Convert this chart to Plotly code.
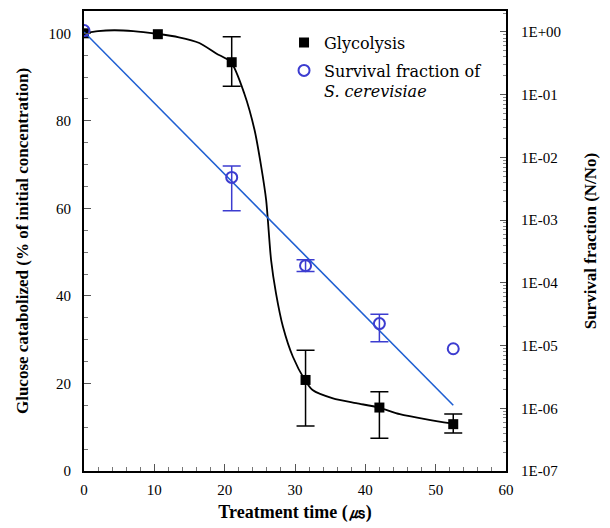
import plotly.graph_objects as go

# ---- data ----
time_pts = [0, 10.5, 21, 31.5, 42, 52.5]
gly_mean = [100, 99.8, 93.4, 20.8, 14.5, 10.7]

# glycolysis points that carry error bars
gly_err_x = [21, 31.5, 42, 52.5]
gly_err_mean = [93.4, 20.8, 14.5, 10.7]
gly_upper = [99.2, 27.6, 18.1, 13.0]
gly_lower = [87.9, 10.3, 7.5, 8.7]

surv_x = [0, 21, 31.5, 42, 52.5]
surv_mean = [1.05, 4.8e-3, 1.88e-4, 2.24e-5, 8.9e-6]

# survival points that carry error bars
surv_err_x = [21, 31.5, 42]
surv_err_mean = [4.8e-3, 1.88e-4, 2.24e-5]
surv_upper = [7.3e-3, 2.34e-4, 3.16e-5]
surv_lower = [1.41e-3, 1.52e-4, 1.15e-5]

# fitted curve for glycolysis
curve_x = [0, 2, 4.3, 7, 10.3, 13.5, 16.4, 18.8, 20.9, 22.8, 24.25, 25.2, 25.9,
           26.6, 27.3, 28.3, 29.7, 31.4, 32.5, 35.4, 38.7, 41.9, 44.9, 48.7, 52.5]
curve_y = [100, 100.5, 100.7, 100.5, 99.9, 99.1, 97.8, 95.4, 93.4, 86.2, 77.9, 69.5, 61.9,
           48.2, 40.6, 32.9, 26.1, 20.8, 18.5, 16.6, 15.5, 14.5, 13.0, 11.8, 10.8]

# regression line for survival
fit_x = [0, 52.5]
fit_y = [1.0, 1.12e-6]

right_tickvals = [1e0, 1e-1, 1e-2, 1e-3, 1e-4, 1e-5, 1e-6, 1e-7]
right_ticktext = ["1E+00", "1E-01", "1E-02", "1E-03", "1E-04", "1E-05", "1E-06", "1E-07"]

gly_plus = [u - m for u, m in zip(gly_upper, gly_err_mean)]
gly_minus = [m - l for m, l in zip(gly_err_mean, gly_lower)]
surv_plus = [u - m for u, m in zip(surv_upper, surv_err_mean)]
surv_minus = [m - l for m, l in zip(surv_err_mean, surv_lower)]

BLUE_LINE = "#1f5fd2"
BLUE_PT = "#3c3cd0"
SERIF = "Liberation Serif"

fig = go.Figure()

fig.add_trace(go.Scatter(x=curve_x, y=curve_y, mode="lines",
                         line=dict(color="black", width=1.8, shape="spline", smoothing=0.7),
                         showlegend=False, hoverinfo="skip"))

fig.add_trace(go.Scatter(x=fit_x, y=fit_y, mode="lines", yaxis="y2",
                         line=dict(color=BLUE_LINE, width=1.6),
                         showlegend=False, hoverinfo="skip"))

fig.add_trace(go.Scatter(x=surv_err_x, y=surv_err_mean, mode="markers", yaxis="y2",
                         marker=dict(size=0.1, opacity=0), showlegend=False, hoverinfo="skip",
                         error_y=dict(type="data", array=surv_plus, arrayminus=surv_minus,
                                      color=BLUE_PT, thickness=1.5, width=9)))

fig.add_trace(go.Scatter(x=gly_err_x, y=gly_err_mean, mode="markers",
                         marker=dict(size=0.1, opacity=0), showlegend=False, hoverinfo="skip",
                         error_y=dict(type="data", array=gly_plus, arrayminus=gly_minus,
                                      color="black", thickness=1.5, width=9)))

fig.add_trace(go.Scatter(x=time_pts, y=gly_mean, mode="markers", name="Glycolysis",
                         legendgroup="a",
                         marker=dict(symbol="square", size=10, color="black")))

fig.add_trace(go.Scatter(x=surv_x, y=surv_mean, mode="markers", yaxis="y2",
                         name="Survival fraction of<br><i>S. cerevisiae</i>", legendgroup="b",
                         marker=dict(symbol="circle-open", size=11, color=BLUE_PT,
                                     line=dict(width=2, color=BLUE_PT))))

# minor tick positions for log axis
minor_log = [k * 10.0 ** e for e in range(-7, 1) for k in range(2, 10)]

fig.update_layout(
    width=610, height=528,
    margin=dict(l=84, r=104, t=11, b=57),
    plot_bgcolor="white", paper_bgcolor="white",
    font=dict(family=SERIF, size=15, color="black"),
    legend=dict(x=0.474, y=0.968, xanchor="left", yanchor="top",
                traceorder="grouped", valign="top",
                font=dict(family="DejaVu Serif", size=16, color="black"),
                bgcolor="rgba(0,0,0,0)", itemwidth=30, tracegroupgap=4),
    xaxis=dict(range=[0, 60], tickvals=[0, 10, 20, 30, 40, 50, 60], automargin=False,
               ticks="inside", ticklen=7, tickwidth=1, tickcolor="#555",
               showline=True, linecolor="black", linewidth=2, mirror=True,
               showgrid=False, zeroline=False,
               minor=dict(ticks="inside", ticklen=4, dtick=2, tickcolor="#777", showgrid=False),
               ticklabelstandoff=4,
               tickfont=dict(family=SERIF, size=15),
               title=dict(text="Treatment time (㎲)", standoff=8,
                          font=dict(family=SERIF, size=18, weight="bold"))),
    yaxis=dict(range=[0, 105.1], tickvals=[0, 20, 40, 60, 80, 100], automargin=False,
               ticks="inside", ticklen=7, tickwidth=1, tickcolor="#555",
               showline=True, linecolor="black", linewidth=2,
               showgrid=False, zeroline=False,
               minor=dict(ticks="inside", ticklen=4, dtick=5, tickcolor="#777", showgrid=False),
               ticklabelstandoff=8,
               tickfont=dict(family=SERIF, size=15),
               title=dict(text="Glucose catabolized (% of initial concentration)", standoff=16,
                          font=dict(family=SERIF, size=17, weight="bold"))),
    yaxis2=dict(type="log", range=[-7, 0.334], overlaying="y", side="right", automargin=False,
                tickvals=right_tickvals, ticktext=right_ticktext,
                ticks="inside", ticklen=6, tickwidth=1, tickcolor="#555",
                showline=True, linecolor="black", linewidth=2,
                showgrid=False, zeroline=False,
                minor=dict(ticks="inside", ticklen=3, tickvals=minor_log, tickcolor="#888", showgrid=False),
                ticklabelstandoff=10,
                tickfont=dict(family=SERIF, size=15),
                title=dict(text="Survival fraction (N/No)", standoff=24,
                           font=dict(family=SERIF, size=17, weight="bold"))),
)

fig.write_html("out.html", config={"displayModeBar": False},
               post_script="document.body.style.margin='0';document.body.style.padding='0';")
